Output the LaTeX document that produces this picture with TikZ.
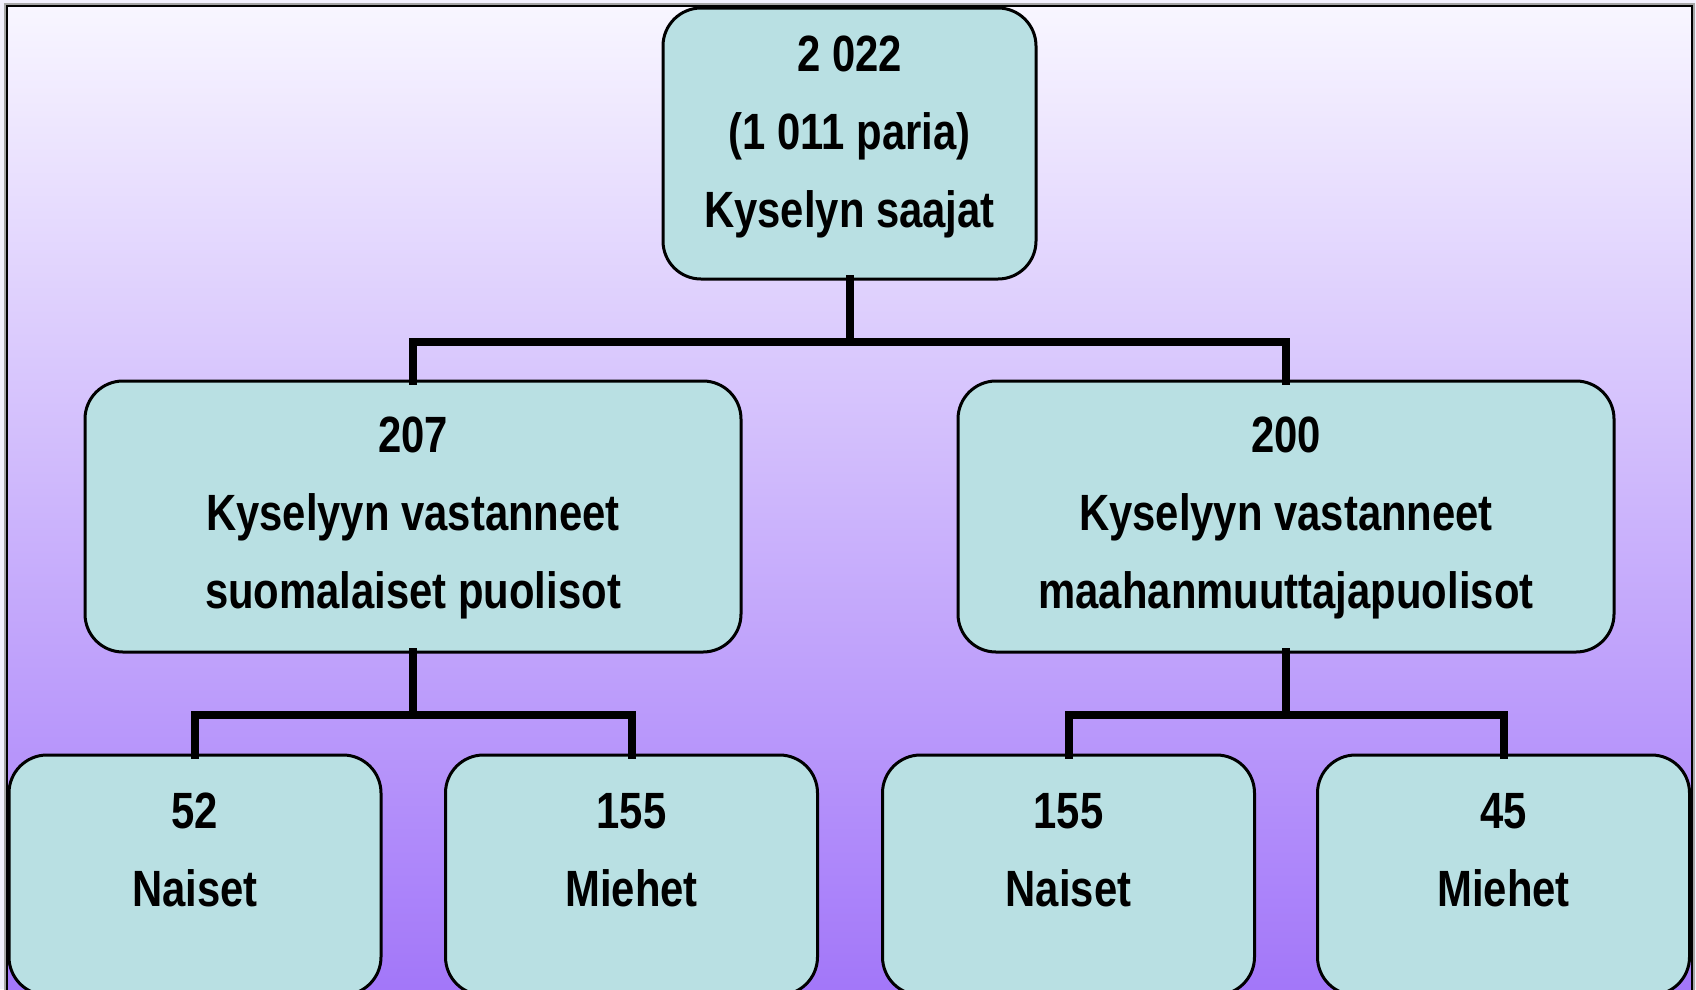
\documentclass[tikz,border=0pt]{standalone}
\usepackage{fontspec}
\setmainfont{Liberation Sans}
\newfontfamily\narrowf{Liberation Sans}[FakeStretch=0.82]
\definecolor{boxc}{HTML}{B9E0E3}
\definecolor{bgtop}{HTML}{F8F6FF}
\definecolor{bgbot}{HTML}{A276F9}
\definecolor{outerbg}{HTML}{F2F0FD}
\tikzset{
  box/.style={draw=black, line width=3pt, fill=boxc, rounded corners=38pt, inner sep=0pt},
  lbl/.style={align=center, font=\narrowf\bfseries\fontsize{51}{78}\selectfont, inner sep=0pt},
  conn/.style={line width=8pt, line cap=rect, line join=miter}
}
\begin{document}
\begin{tikzpicture}[x=1pt,y=-1pt]
\useasboundingbox (0,0) rectangle (1696,989);
\clip (0,0) rectangle (1696,989);
\fill[outerbg] (0,0) rectangle (1696,989);
\fill[top color=bgtop, bottom color=bgbot] (7,6) rectangle (1692,995);
\draw[gray!70, line width=1.5pt] (5,4) rectangle (1694,1000);
\draw[black, line width=2.5pt] (7,6) rectangle (1692,1000);
% boxes
\node[box, minimum width=373pt, minimum height=271pt] (top) at (849.5,143.5) {};
\node[box, minimum width=656pt, minimum height=271pt] (m1) at (413,516.5) {};
\node[box, minimum width=656pt, minimum height=271pt] (m2) at (1286,516.5) {};
\node[box, minimum width=372pt, minimum height=240pt] (b1) at (195,875) {};
\node[box, minimum width=372pt, minimum height=240pt] (b2) at (631.5,875) {};
\node[box, minimum width=372pt, minimum height=240pt] (b3) at (1068.5,875) {};
\node[box, minimum width=372pt, minimum height=240pt] (b4) at (1503.5,875) {};
% texts
\node[lbl] (ttop) at (849.5,136.5) {2 022\\(1 011 paria)\\Kyselyn saajat};
\node[lbl] (tm1) at (413,518) {207\\Kyselyyn vastanneet\\suomalaiset puolisot};
\node[lbl] (tm2) at (1286,518) {200\\Kyselyyn vastanneet\\maahanmuuttajapuolisot};
\node[lbl] (tb1) at (195,850) {52\\Naiset};
\node[lbl] (tb2) at (631.5,850) {155\\Miehet};
\node[lbl] (tb3) at (1068.5,850) {155\\Naiset};
\node[lbl] (tb4) at (1503.5,850) {45\\Miehet};
% connectors
\coordinate (j0) at (849.5,342);
\coordinate (j1) at (413,715);
\coordinate (j2) at (1286,715);
\draw[conn] ([yshift=1.5pt]top.south) -- (j0);
\draw[conn] ([yshift=-1.5pt]m1.north) |- (j0) -| ([yshift=-1.5pt]m2.north);
\draw[conn] ([yshift=1.5pt]m1.south) -- (j1);
\draw[conn] ([yshift=-1.5pt]b1.north) |- (j1) -| ([yshift=-1.5pt]b2.north);
\draw[conn] ([yshift=1.5pt]m2.south) -- (j2);
\draw[conn] ([yshift=-1.5pt]b3.north) |- (j2) -| ([yshift=-1.5pt]b4.north);
\end{tikzpicture}
\end{document}
